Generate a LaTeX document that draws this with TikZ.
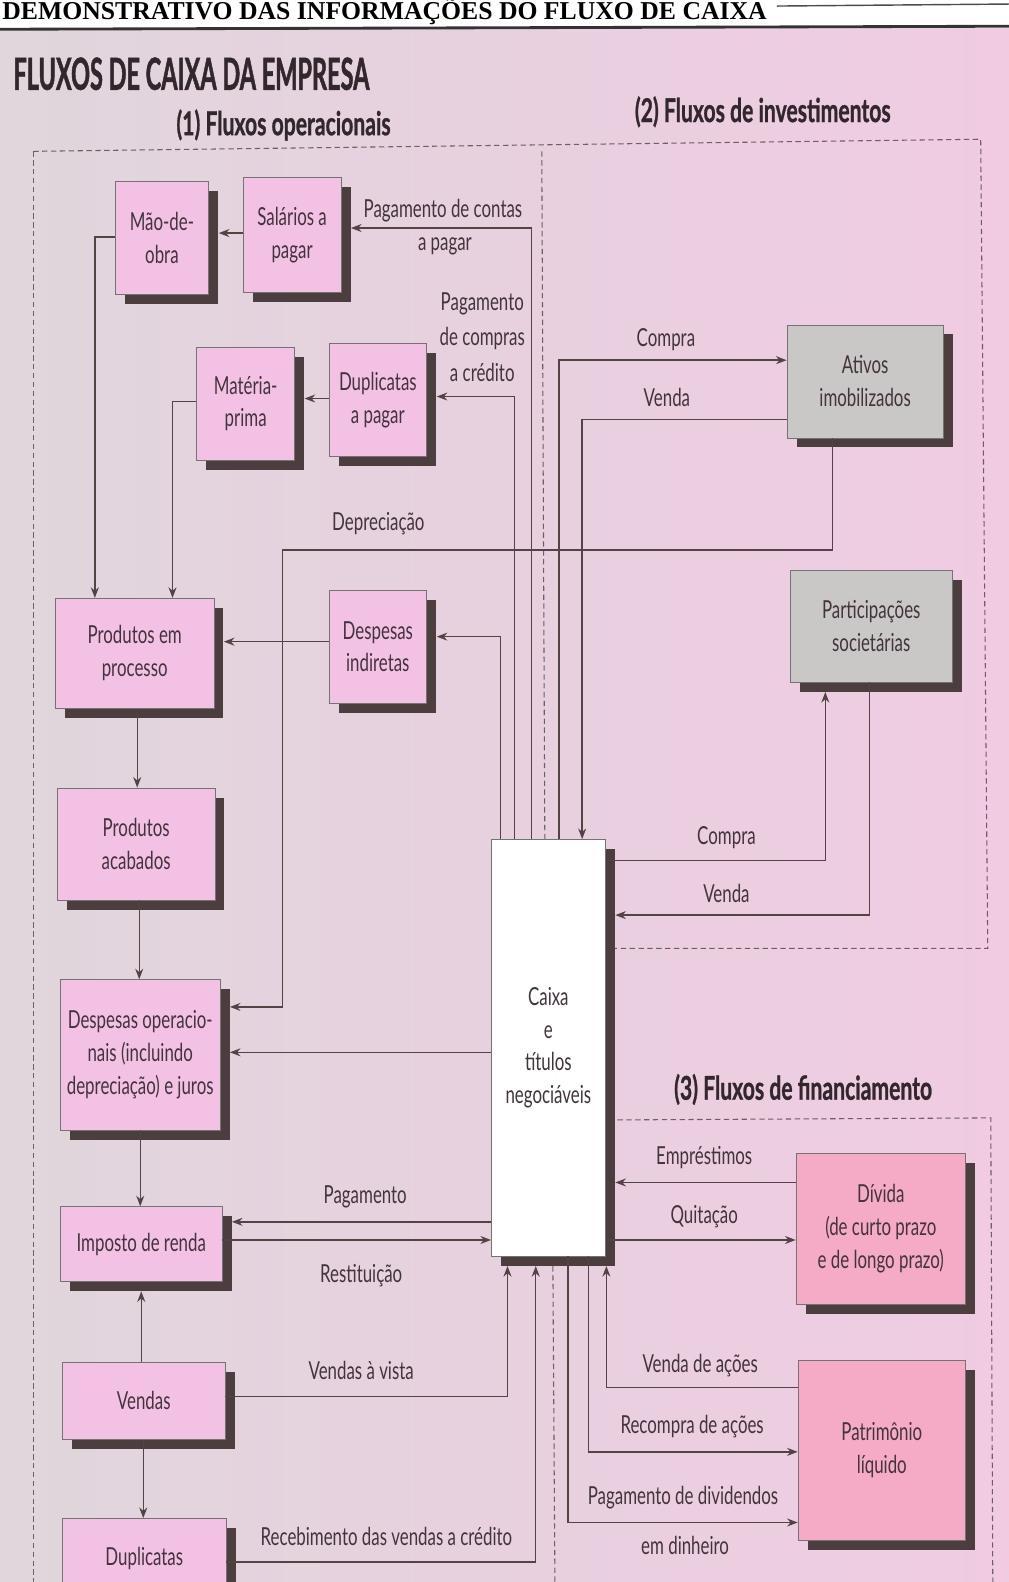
\documentclass[tikz,border=0pt]{standalone}
\usepackage{fontspec}
\setmainfont[FakeStretch=0.68]{Lato}
\newfontfamily\headfont[FakeStretch=0.53, FakeBold=1]{Lato}
\newfontfamily\secfont[FakeStretch=0.645, FakeBold=0.8]{Lato}
\newfontfamily\serifhead{Liberation Serif}
\usepackage{tikz}
\usetikzlibrary{arrows.meta, positioning, shadows}
\usepackage{xcolor}
\definecolor{paperL}{RGB}{224,214,220}
\definecolor{paperR}{RGB}{240,203,226}
\definecolor{boxPinkFill}{RGB}{243,193,228}
\definecolor{boxSalmonFill}{RGB}{245,170,198}
\definecolor{boxGrayFill}{RGB}{201,200,198}
\definecolor{blockShadow}{RGB}{76,62,62}
\definecolor{lineCol}{RGB}{82,68,68}
\definecolor{textCol}{RGB}{66,52,60}

\begin{document}
\begin{tikzpicture}[
    x=0.02cm, y=-0.02cm,
    boxBase/.style={
        rectangle,
        draw=black!55,
        line width=0.4pt,
        inner sep=2pt,
        align=center,
        text=textCol,
        font=\fontsize{14}{18.5}\selectfont,
        general shadow={fill=blockShadow, shadow xshift=0.19cm, shadow yshift=-0.19cm}
    },
    boxPink/.style={
        boxBase,
        fill=boxPinkFill,
        minimum width=1.94cm,
        minimum height=2.24cm
    },
    boxGray/.style={
        boxBase,
        fill=boxGrayFill,
        minimum width=3.16cm,
        minimum height=2.22cm
    },
    boxSalmon/.style={
        boxBase,
        fill=boxSalmonFill,
        minimum width=3.34cm,
        minimum height=3.0cm
    },
    lbl/.style={
        inner sep=0pt,
        align=center,
        text=textCol,
        font=\fontsize{14}{20}\selectfont
    },
    secTitle/.style={
        inner sep=0pt,
        text=textCol!75!black,
        font=\secfont\bfseries\fontsize{18.5}{18.5}\selectfont
    },
    flow/.style={
        draw=lineCol,
        line width=0.8pt,
        -{Stealth[length=6pt,width=4.5pt]}
    },
    toShadow/.style={shorten >=0.19cm},
    region/.style={
        draw=lineCol!85,
        line width=0.6pt,
        dash pattern=on 3pt off 2pt
    }
]
\useasboundingbox (0,0) rectangle (1000,1568);
\clip (0,0) rectangle (1000,1568);

% Page
\shade[left color=paperL, right color=paperR] (0,28) rectangle (1000,1568);
\fill[white] (0,0) rectangle (1000,28);
\draw[line width=1.6pt, black!80] (0,29) -- (1000,26);
\draw[line width=0.8pt, black!70] (770,6) -- (1000,4);
\node[anchor=base west, inner sep=0pt, font=\serifhead\bfseries\fontsize{14.5}{14.5}\selectfont] (hdr) at (2,19) {DEMONSTRATIVO DAS INFORMAÇÕES DO FLUXO DE CAIXA};

% Titles
\node[anchor=base west, inner sep=0pt, text=textCol!75!black, font=\headfont\bfseries\fontsize{25}{25}\selectfont] (title) at (13,89) {FLUXOS DE CAIXA DA EMPRESA};
\node[secTitle, anchor=base] (sec1) at (281,134) {(1) Fluxos operacionais};
\node[secTitle, anchor=base] (sec2) at (756,121) {(2) Fluxos de investimentos};
\node[secTitle, anchor=base] (sec3) at (796,1090) {(3) Fluxos de financiamento};

% Regions
\draw[region] (33,150) -- (972,138) -- (979,940) -- (608,940);
\draw[region] (33,150) -- (33,1568);
\draw[region] (537,150) -- (540,832);
\draw[region] (548,1255) -- (550,1568);
\draw[region] (612,1110) -- (982,1108) -- (984,1568);

% Operational boxes
\node[boxPink, minimum width=1.86cm] (mao) at (160.5,236) {Mão-de-\\obra};
\node[boxPink, minimum height=2.28cm] (sal) at (289.5,233) {Salários a\\pagar};
\node[boxPink] (mat) at (243.5,400) {Matéria-\\prima};
\node[boxPink] (dup) at (374.5,396.5) {Duplicatas\\a pagar};
\node[boxPink, minimum width=3.14cm, minimum height=2.18cm] (pep) at (133.5,647.5) {Produtos em\\processo};
\node[boxPink] (din) at (374.5,641) {Despesas\\indiretas};
\node[boxPink, minimum width=3.12cm, minimum height=2.22cm] (pac) at (135,836.5) {Produtos\\acabados};
\node[boxPink, minimum width=3.16cm, minimum height=2.98cm] (dop) at (139,1045.5) {Despesas operacio-\\nais (incluindo\\depreciação) e juros};
\node[boxPink, minimum width=3.2cm, minimum height=1.48cm] (ir) at (140,1233) {Imposto de renda};
\node[boxPink, minimum width=3.22cm, minimum height=1.54cm] (ven) at (142.5,1388.5) {Vendas};
\node[boxPink, minimum width=3.24cm, minimum height=1.6cm] (dre) at (143,1545) {Duplicatas};

% Cash box
\node[boxBase, fill=white, minimum width=2.26cm, minimum height=8.26cm] (cx) at (543.5,1038.5) {Caixa\\e\\títulos\\negociáveis};

% Investment and financing boxes
\node[boxGray, minimum width=3.1cm, minimum height=2.24cm] (ati) at (857.5,378) {Ativos\\imobilizados};
\node[boxGray, minimum width=3.22cm] (par) at (863.5,620.5) {Participações\\societárias};
\node[boxSalmon, minimum width=3.36cm] (div) at (873,1218) {Dívida\\(de curto prazo\\e de longo prazo)};
\node[boxSalmon, minimum width=3.32cm, minimum height=3.58cm] (pat) at (874,1437.5) {Patrimônio\\líquido};

% Bend point
\coordinate (dep) at (280,545);

% Flows above the cash box
\draw[flow, toShadow] (cx.north -| 527,0) |- (sal.east |- 0,226);
\draw[flow, toShadow] (cx.north -| 510,0) |- (dup.east |- 0,393);
\draw[flow, toShadow] (cx.north -| 496,0) |- (din.east |- 0,631);
\draw[flow] (cx.north -| 554,0) |- (ati.west |- 0,357);
\draw[flow] (ati.west |- 0,416) -| (cx.north -| 577,0);
\draw[flow, toShadow] (ati.south -| 825,0) |- (dep) |- (dop.east |- 0,998);

% Production chain
\draw[flow, toShadow] (sal.west |- 0,231) -- (mao.east |- 0,231);
\draw[flow] (mao.west |- 0,235) -| (pep.north -| 94,0);
\draw[flow, toShadow] (dup.west |- 0,395) -- (mat.east |- 0,395);
\draw[flow] (mat.west |- 0,398) -| (pep.north -| 171,0);
\draw[flow, toShadow] (din.west |- 0,636) -- (pep.east |- 0,636);
\draw[flow] (pep.south -| 136,0) -- (pac.north -| 136,0);
\draw[flow] (pac.south -| 138,0) -- (dop.north -| 138,0);
\draw[flow] (dop.south -| 139,0) -- (ir.north -| 139,0);
\draw[flow, toShadow] (ven.north -| 140,0) -- (ir.south -| 140,0);
\draw[flow] (ven.south -| 142,0) -- (dre.north -| 142,0);

% Left of the cash box
\draw[flow, toShadow] (cx.west |- 0,1043) -- (dop.east |- 0,1043);
\draw[flow, toShadow] (cx.west |- 0,1211) -- (ir.east |- 0,1211);
\draw[flow] (ir.east |- 0,1229) -- (cx.west |- 0,1229);

% Below the cash box
\draw[flow, toShadow] (ven.east |- 0,1384) -| (cx.south -| 503,0);
\draw[flow, toShadow] (dre.east |- 0,1548) -| (cx.south -| 531,0);
\draw[flow] (cx.south -| 563,0) |- (pat.west |- 0,1509);
\draw[flow] (cx.south -| 583,0) |- (pat.west |- 0,1439);
\draw[flow, toShadow] (pat.west |- 0,1375) -| (cx.south -| 601,0);

% Right of the cash box
\draw[flow, toShadow] (cx.east |- 0,853) -| (par.south -| 818,0);
\draw[flow, toShadow] (par.south -| 862,0) |- (cx.east |- 0,907);
\draw[flow, toShadow] (div.west |- 0,1172) -- (cx.east |- 0,1172);
\draw[flow] (cx.east |- 0,1229) -- (div.west |- 0,1229);

% Flow labels
\node[lbl] (lblContasA) at (439,209) {Pagamento de contas};
\node[lbl] (lblContasB) at (441,244) {a pagar};
\node[lbl] (lblCompras) at (478,334) {Pagamento\\de compras\\a crédito};
\node[lbl] (lblCompraAt) at (660,337) {Compra};
\node[lbl] (lblVendaAt) at (661,394) {Venda};
\node[lbl] (lblDeprec) at (375,519) {Depreciação};
\node[lbl] (lblCompraPs) at (720,830) {Compra};
\node[lbl] (lblVendaPs) at (720,886) {Venda};
\node[lbl] (lblPagIR) at (362,1186) {Pagamento};
\node[lbl] (lblRestIR) at (358,1264) {Restituição};
\node[lbl] (lblVista) at (358,1358) {Vendas à vista};
\node[lbl] (lblReceb) at (383,1523) {Recebimento das vendas a crédito};
\node[lbl] (lblEmprest) at (698,1147) {Empréstimos};
\node[lbl] (lblQuit) at (698,1206) {Quitação};
\node[lbl] (lblVendaAc) at (694,1353) {Venda de ações};
\node[lbl] (lblRecompra) at (686,1414) {Recompra de ações};
\node[lbl] (lblDivA) at (677,1484) {Pagamento de dividendos};
\node[lbl] (lblDivB) at (679,1532) {em dinheiro};

\end{tikzpicture}
\end{document}
